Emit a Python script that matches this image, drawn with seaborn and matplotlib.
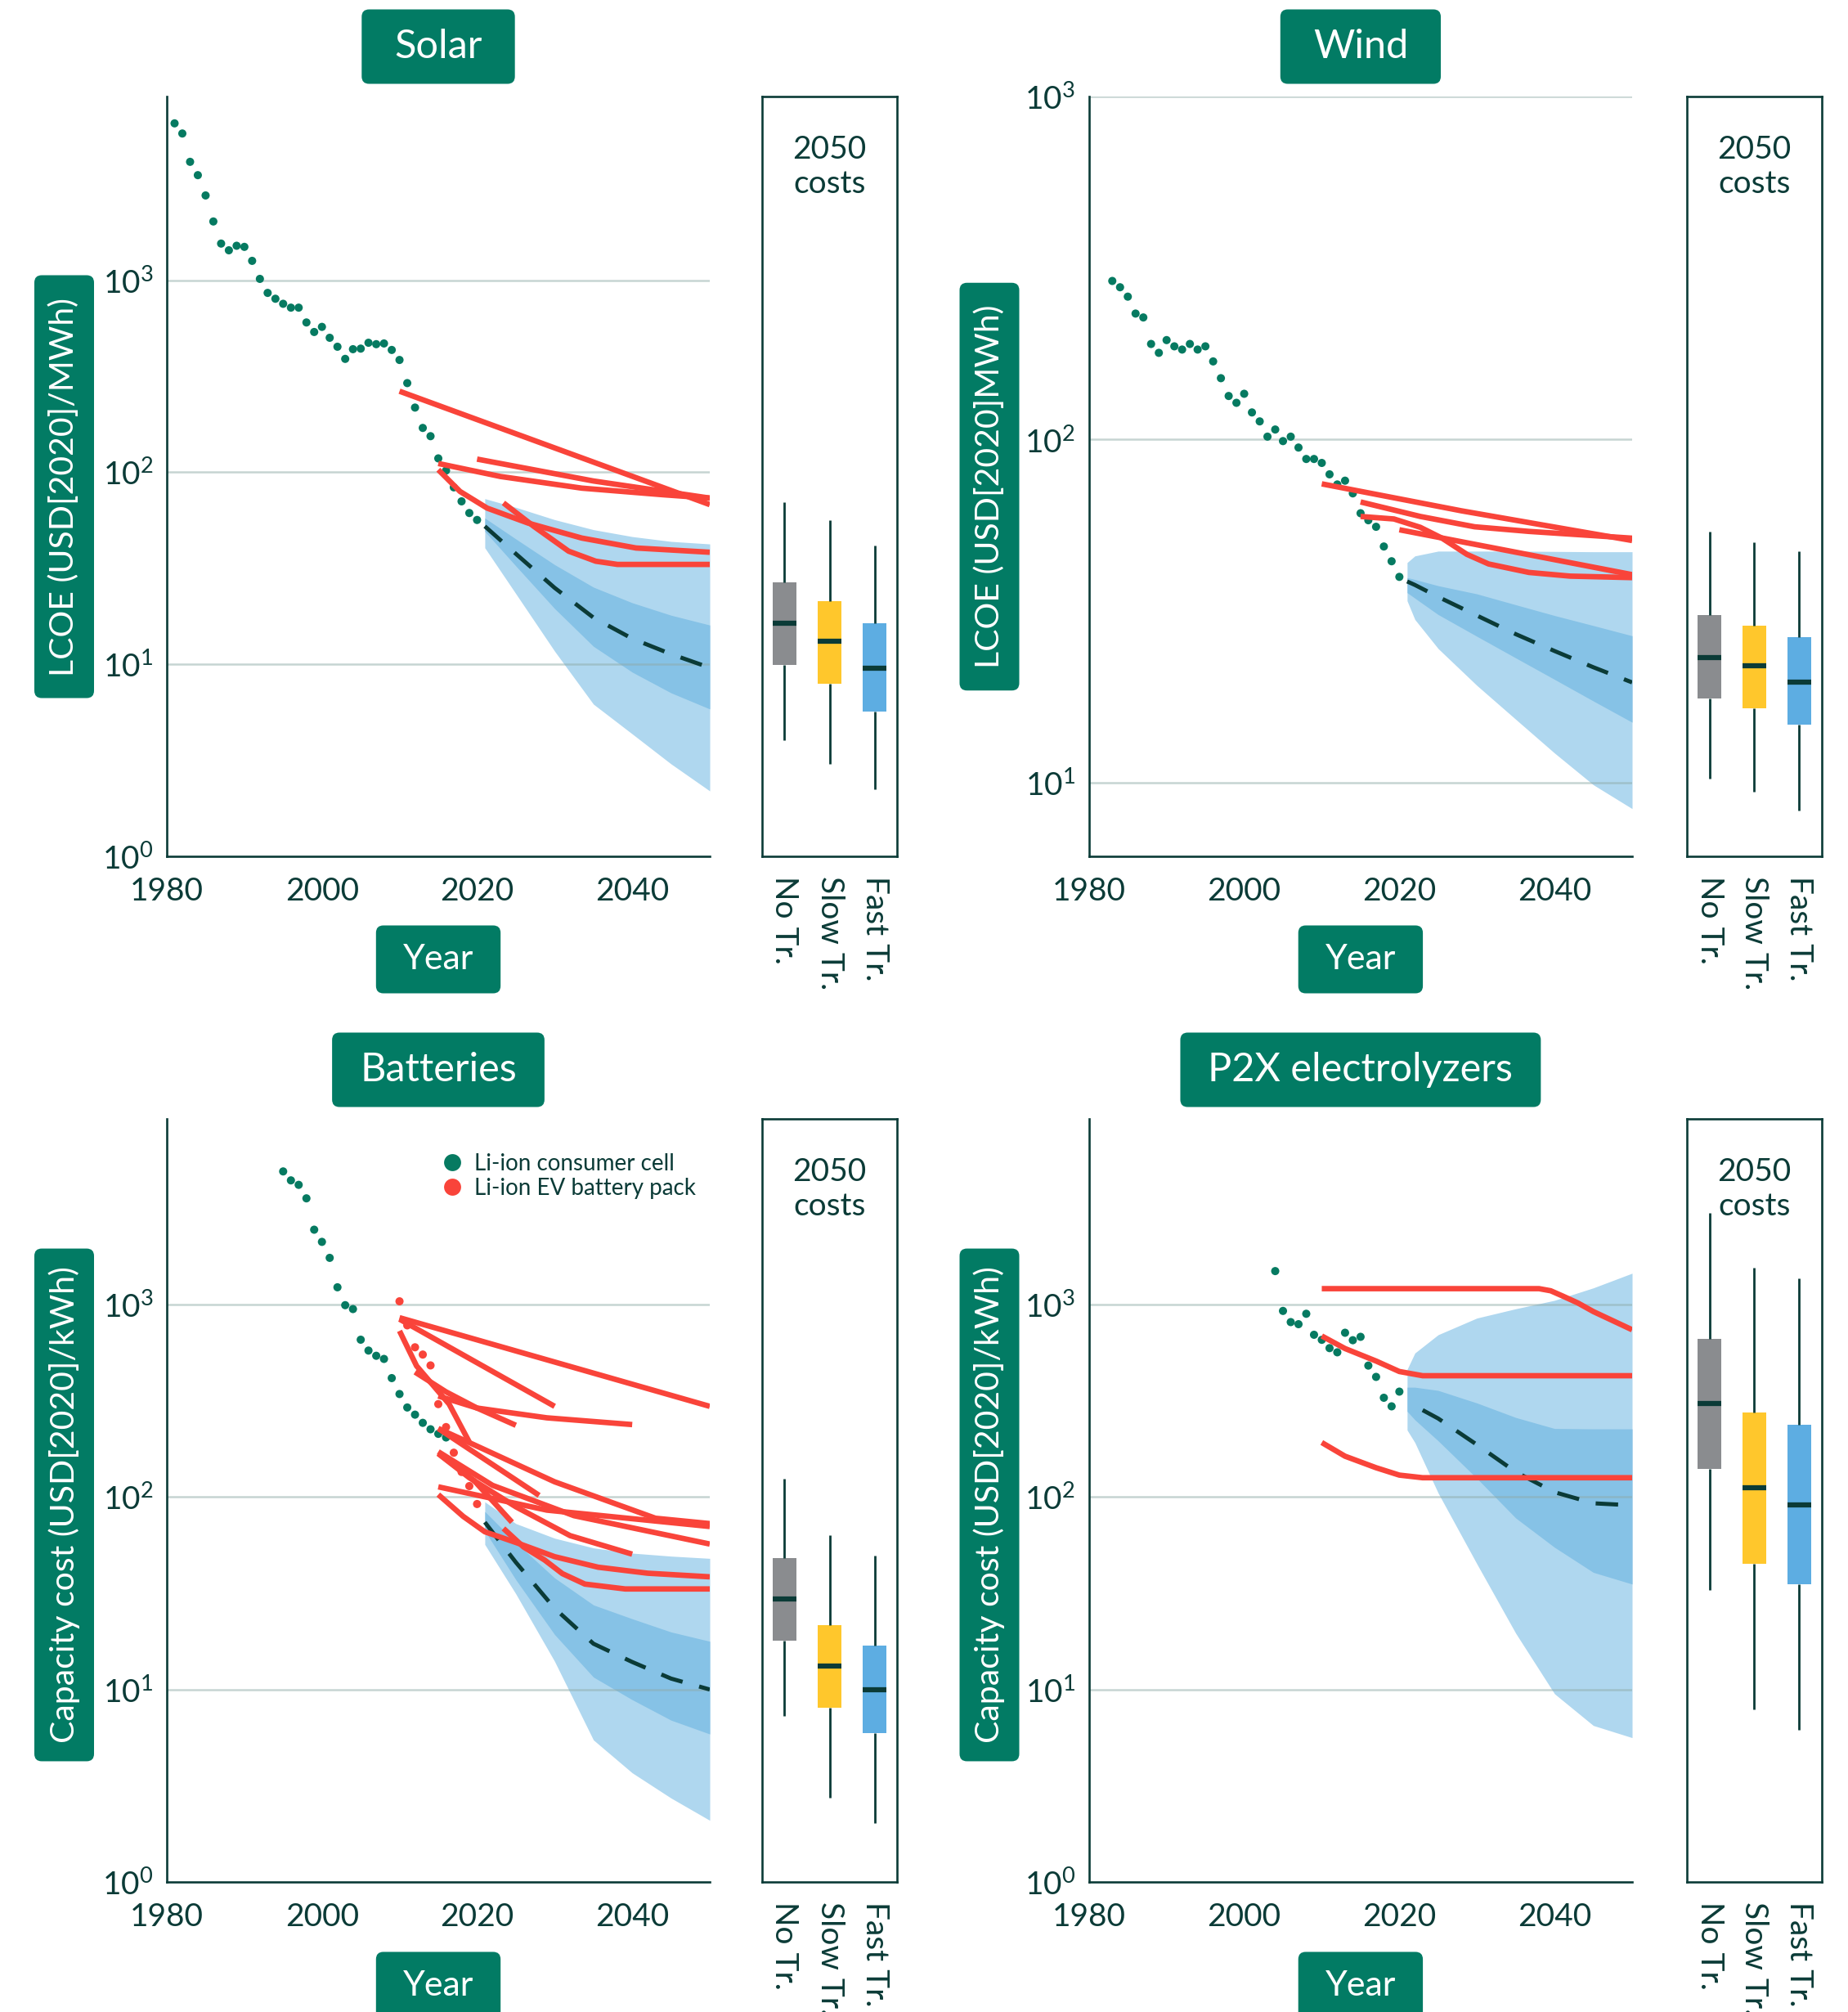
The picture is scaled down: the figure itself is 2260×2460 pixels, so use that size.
import numpy as np
import pandas as pd
import matplotlib
matplotlib.use("Agg")
import matplotlib.pyplot as plt
import seaborn as sns
from matplotlib.patches import FancyBboxPatch
from matplotlib.lines import Line2D
from matplotlib.ticker import NullLocator
from matplotlib.transforms import IdentityTransform

# ---------------- data ----------------
# Solar
solar_hist_years = np.arange(1981, 2021)
solar_hist_cost = [6550, 5800, 4130, 3520, 2760, 2020, 1550, 1430, 1510, 1490,
                   1260, 1015, 858, 800, 753, 719, 719, 602, 537, 571,
                   501, 450, 389, 437, 440, 472, 464, 468, 433, 384,
                   291, 217, 170, 154, 118, 102, 83.4, 70.5, 61.3, 56.4]
solar_proj_years = [2021, 2025, 2030, 2035, 2040, 2045, 2050]
solar_median = [52.3, 37.6, 25.0, 17.5, 13.6, 11.3, 9.6]
solar_inner_high = [57.7, 44.9, 33.0, 25.2, 20.9, 18.0, 16.0]
solar_inner_low = [49.2, 32.5, 19.5, 12.4, 9.1, 7.1, 5.85]
solar_outer_high = [72.8, 65.6, 56.6, 50.2, 46.2, 43.6, 42.3]
solar_outer_low = [40.4, 23.3, 11.7, 6.2, 4.34, 3.03, 2.19]
solar_study_years = [[2010, 2050],
                     [2020, 2035, 2050],
                     [2015, 2023, 2033.5, 2044, 2050],
                     [2015, 2017.8, 2021.3, 2026.6, 2033.5, 2040.5, 2050],
                     [2023.4, 2027.3, 2031.8, 2035.3, 2038.1, 2050]]
solar_study_cost = [[264, 67.8],
                    [117, 90, 73.3],
                    [111, 95, 82.6, 76.3, 73.3],
                    [103, 79.4, 65, 54.3, 45.4, 40.3, 38.3],
                    [69.2, 52.3, 38.8, 34.4, 33.1, 33.1]]
solar_box_no = [4.04, 9.9, 16.4, 26.7, 69.5]
solar_box_slow = [3.03, 7.93, 13.2, 21.4, 56.2]
solar_box_fast = [2.24, 5.69, 9.5, 16.3, 41.4]

# Wind
wind_hist_years = np.arange(1983, 2021)
wind_hist_cost = [290, 278, 261, 233, 227, 190, 179, 195, 187, 183,
                  190, 183, 187, 169, 151, 134, 128, 136, 120, 113,
                  102, 107, 99, 102, 94.8, 87.8, 87.8, 85.5, 79.2, 74,
                  75.9, 69.7, 61, 58.2, 55.7, 48.8, 44.2, 39.8]
wind_proj_years = [2021, 2022, 2025, 2030, 2035, 2040, 2045, 2050]
wind_median = [38.6, 37.7, 34.8, 30.7, 27.1, 24.2, 21.7, 19.6]
wind_inner_high = [39.6, 39.1, 37.5, 35.5, 33.0, 30.7, 28.7, 26.8]
wind_inner_low = [35.8, 34.5, 30.9, 26.7, 23.1, 20.0, 17.3, 15.0]
wind_outer_high = [43.8, 45.8, 47.3, 47.3, 47.3, 47.2, 47.1, 47.1]
wind_outer_low = [33.9, 29.9, 24.6, 19.2, 15.3, 12.2, 9.86, 8.4]
wind_study_years = [[2010, 2028, 2042, 2050],
                    [2015, 2022.7, 2029.7, 2036.7, 2050],
                    [2015, 2019.3, 2022.7, 2025.5, 2028.7, 2031.5, 2036.7, 2042, 2050],
                    [2020, 2050]]
wind_study_cost = [[74.3, 62, 54.6, 50.8],
                   [65.8, 59.7, 55.7, 54, 51.6],
                   [59.7, 58.7, 55.5, 51.6, 46.3, 43.4, 41.0, 40.0, 39.6],
                   [54.6, 40.4]]
wind_box_no = [10.3, 17.6, 23.2, 30.8, 53.8]
wind_box_slow = [9.4, 16.5, 21.9, 28.7, 50.2]
wind_box_fast = [8.3, 14.8, 19.6, 26.6, 47.3]

# Batteries
batt_cell_years = np.arange(1995, 2017)
batt_cell_cost = [4920, 4420, 4190, 3565, 2450, 2118, 1749, 1230, 993, 948,
                  657, 577, 542, 522, 415, 343, 292, 268, 243, 225, 213, 204]
batt_pack_years = np.arange(2010, 2021)
batt_pack_cost = [1040, 780, 600, 550, 483, 304, 231, 170, 135, 114, 92]
batt_proj_years = [2021, 2025, 2030, 2035, 2040, 2045, 2050]
batt_median = [74.0, 45.8, 26.4, 17.3, 13.9, 11.4, 10.0]
batt_inner_high = [84.1, 58.0, 38.0, 27.5, 23.3, 19.9, 17.8]
batt_inner_low = [66.7, 37.2, 19.3, 11.6, 8.85, 6.93, 5.87]
batt_outer_high = [94.4, 72.8, 61.1, 54.4, 51.1, 49.3, 48.0]
batt_outer_low = [56.7, 31.4, 14.0, 5.47, 3.69, 2.73, 2.09]
batt_study_years = [[2010, 2050],
                    [2010, 2030],
                    [2010, 2012.2, 2016.4, 2019],
                    [2012, 2016, 2020, 2025],
                    [2015, 2020, 2029, 2040],
                    [2015, 2019.6, 2030, 2043, 2050],
                    [2015, 2028],
                    [2015, 2019.6, 2024.5],
                    [2015, 2022, 2032.5, 2050],
                    [2015, 2019, 2025, 2032, 2040],
                    [2015, 2029, 2050],
                    [2015, 2018.2, 2021, 2025.2, 2030, 2035.6, 2042, 2050],
                    [2023.4, 2026, 2028.7, 2031, 2033.9, 2039.1, 2050]]
batt_study_cost = [[855, 296],
                   [840, 296],
                   [730, 480, 304, 193],
                   [446, 352, 290, 236],
                   [335, 290, 258, 238],
                   [227, 187, 120, 77.6, 72.8],
                   [227, 102],
                   [169, 122, 74],
                   [172, 115, 80, 57],
                   [168, 126, 89, 63, 50.5],
                   [113, 85.5, 70.3],
                   [103, 79.4, 66, 57.7, 49, 43.2, 40.2, 38.5],
                   [68.7, 55, 47.1, 40, 35.3, 33.3, 33.3]]
batt_box_no = [7.3, 18.0, 29.4, 48, 124]
batt_box_slow = [2.74, 8.07, 13.3, 21.7, 63.2]
batt_box_fast = [2.03, 5.94, 9.93, 16.9, 49.8]

# P2X electrolyzers
p2x_hist_years = np.arange(2004, 2021)
p2x_hist_cost = [1493, 927, 811, 791, 896, 697, 656, 594, 565, 714,
                 653, 680, 482, 421, 328, 296, 353]
p2x_proj_years = [2021, 2022, 2025, 2030, 2035, 2040, 2045, 2050]
p2x_median_years = [2023, 2025, 2030, 2035, 2040, 2045, 2050]
p2x_median = [283, 256, 187, 135, 106, 92.8, 90.6]
p2x_inner_high = [372, 372, 358, 308, 259, 227, 226, 226]
p2x_inner_low = [279, 252, 196, 125, 77.8, 54.8, 40.6, 35.3]
p2x_outer_high = [460, 560, 697, 851, 951, 1052, 1221, 1455]
p2x_outer_low = [223, 192, 105, 44.9, 19.6, 9.5, 6.5, 5.62]
p2x_study_years = [[2010, 2038, 2039.5, 2041, 2043, 2045, 2050],
                   [2010, 2013, 2017, 2020, 2023, 2050],
                   [2010, 2013, 2017, 2020, 2023, 2050]]
p2x_study_cost = [[1210, 1210, 1180, 1110, 1020, 920, 740],
                  [687, 591, 509, 449, 427, 427],
                  [192, 163, 142, 130, 126, 126]]
p2x_box_no = [32.8, 140, 305, 662, 2990]
p2x_box_slow = [7.9, 45, 112, 274, 1552]
p2x_box_fast = [6.15, 35.4, 91.2, 237, 1364]

scenario_labels = ["No Tr.", "Slow Tr.", "Fast Tr."]
year_ticks = [1980, 2000, 2020, 2040]

# ---------------- style ----------------
sns.set_theme(style="white")
plt.rcParams["font.family"] = ["Lato", "DejaVu Sans"]
plt.rcParams["mathtext.fontset"] = "custom"
plt.rcParams["mathtext.rm"] = "Lato"
plt.rcParams["mathtext.it"] = "Lato:italic"
plt.rcParams["mathtext.bf"] = "Lato:bold"

TEAL = "#027B64"
GREEN = "#067A61"
DARK = "#0B3B37"
RED = "#F9443A"
LIGHT_BLUE = "#AFD7EF"
MID_BLUE = "#86C2E6"
GRID = "#8FAAA7"
BOX_COLORS = ["#8A8C8F", "#FFC72C", "#5DADE2"]
TICK_FS = 28

W, H = 2260, 2460
fig = plt.figure(figsize=(W / 100, H / 100), dpi=100)
fig.patch.set_facecolor("white")


def add_px_axes(l, t, r, b):
    return fig.add_axes([l / W, 1 - b / H, (r - l) / W, (b - t) / H])


def style_main(ax, ylim, yticks):
    ax.set_yscale("log")
    ax.set_ylim(*ylim)
    ax.set_xlim(1980, 2050)
    ax.set_yticks(yticks)
    ax.set_yticklabels([r"$\mathregular{10^{%d}}$" % int(round(np.log10(v))) for v in yticks])
    ax.yaxis.set_minor_locator(NullLocator())
    ax.set_xticks(year_ticks)
    ax.set_xticklabels([str(y) for y in year_ticks])
    ax.tick_params(axis="x", length=0, labelsize=TICK_FS, colors=DARK, pad=18)
    ax.tick_params(axis="y", length=0, labelsize=TICK_FS, colors=DARK, pad=12)
    for s in ["top", "right"]:
        ax.spines[s].set_visible(False)
    for s in ["left", "bottom"]:
        ax.spines[s].set_color(DARK)
        ax.spines[s].set_linewidth(1.9)
    ax.set_facecolor("white")
    ax.set_xlabel("")
    ax.set_ylabel("")


def draw_main(ax, hist_years, hist_cost, proj_years, med_years, med,
              in_lo, in_hi, out_lo, out_hi, study_years, study_cost,
              ylim, yticks, grid_vals):
    ax.set_yscale("log")
    ax.fill_between(proj_years, out_lo, out_hi, color=LIGHT_BLUE, lw=0, zorder=1)
    ax.fill_between(proj_years, in_lo, in_hi, color=MID_BLUE, lw=0, zorder=1.1)
    for v in grid_vals:
        ax.axhline(v, color=GRID, alpha=0.5, lw=1.8, zorder=1.5)
    sns.lineplot(x=med_years, y=med, ax=ax, color=DARK, linewidth=3.6,
                 linestyle=(0, (5.5, 4.2)), estimator=None, sort=False, zorder=3)
    sns.scatterplot(x=hist_years, y=hist_cost, ax=ax, color=GREEN, s=52,
                    edgecolor="none", linewidth=0, zorder=3.5)
    for ys, cs in zip(study_years, study_cost):
        sns.lineplot(x=ys, y=cs, ax=ax, color=RED, linewidth=4.8,
                     estimator=None, sort=False, zorder=4,
                     solid_capstyle="butt")
    style_main(ax, ylim, yticks)


def draw_box(bax, no, slow, fast, ylim):
    df = pd.DataFrame({
        "scenario": [scenario_labels[0]] * len(no) + [scenario_labels[1]] * len(slow)
                    + [scenario_labels[2]] * len(fast),
        "cost": list(no) + list(slow) + list(fast),
    })
    bax.set_yscale("log")
    sns.boxplot(data=df, x="scenario", y="cost", hue="scenario", order=scenario_labels,
                hue_order=scenario_labels, palette=BOX_COLORS, legend=False, ax=bax,
                width=0.525, whis=(0, 100), saturation=1, linecolor=DARK, linewidth=2.0,
                showcaps=False, boxprops=dict(linewidth=0),
                medianprops=dict(linewidth=4.5, solid_capstyle="butt"))
    for p in bax.patches:
        p.set_edgecolor("none")
    bax.set_ylim(*ylim)
    bax.set_xlim(-0.5, 2.5)
    bax.set_yticks([])
    bax.yaxis.set_minor_locator(NullLocator())
    bax.set_xticks([0, 1, 2])
    bax.set_xticklabels(scenario_labels, rotation=270, va="top", ha="center")
    bax.tick_params(axis="x", length=0, labelsize=TICK_FS, colors=DARK, pad=17)
    for s in bax.spines.values():
        s.set_visible(True)
        s.set_color(DARK)
        s.set_linewidth(1.9)
    bax.set_xlabel("")
    bax.set_ylabel("")
    bax.text(0.5, 1 - 86 / 929, "2050\ncosts", transform=bax.transAxes, ha="center",
             va="center", fontsize=TICK_FS, color=DARK, linespacing=1.2)


# axes geometry (pixels)
LEFT_MAIN = (204, 868)
LEFT_BOX = (931.7, 1097.3)
RIGHT_MAIN = (1331.8, 1996)
RIGHT_BOX = (2063.3, 2227.6)
TOP_ROW = (118, 1047)
BOT_ROW = (1368, 2301)

solar_ylim = (1, 10 ** 3.956)
wind_ylim = (6.1, 1000)
batt_ylim = (1, 10 ** 3.965)
p2x_ylim = (1, 10 ** 3.965)

ax1 = add_px_axes(LEFT_MAIN[0], TOP_ROW[0], LEFT_MAIN[1], TOP_ROW[1])
bx1 = add_px_axes(LEFT_BOX[0], TOP_ROW[0], LEFT_BOX[1], TOP_ROW[1])
ax2 = add_px_axes(RIGHT_MAIN[0], TOP_ROW[0], RIGHT_MAIN[1], TOP_ROW[1])
bx2 = add_px_axes(RIGHT_BOX[0], TOP_ROW[0], RIGHT_BOX[1], TOP_ROW[1])
ax3 = add_px_axes(LEFT_MAIN[0], BOT_ROW[0], LEFT_MAIN[1], BOT_ROW[1])
bx3 = add_px_axes(LEFT_BOX[0], BOT_ROW[0], LEFT_BOX[1], BOT_ROW[1])
ax4 = add_px_axes(RIGHT_MAIN[0], BOT_ROW[0], RIGHT_MAIN[1], BOT_ROW[1])
bx4 = add_px_axes(RIGHT_BOX[0], BOT_ROW[0], RIGHT_BOX[1], BOT_ROW[1])

draw_main(ax1, solar_hist_years, solar_hist_cost, solar_proj_years, solar_proj_years,
          solar_median, solar_inner_low, solar_inner_high, solar_outer_low, solar_outer_high,
          solar_study_years, solar_study_cost, solar_ylim, [1, 10, 100, 1000], [10, 100, 1000])
draw_box(bx1, solar_box_no, solar_box_slow, solar_box_fast, solar_ylim)

draw_main(ax2, wind_hist_years, wind_hist_cost, wind_proj_years, wind_proj_years,
          wind_median, wind_inner_low, wind_inner_high, wind_outer_low, wind_outer_high,
          wind_study_years, wind_study_cost, wind_ylim, [10, 100, 1000], [10, 100, 1000])
draw_box(bx2, wind_box_no, wind_box_slow, wind_box_fast, wind_ylim)

draw_main(ax3, batt_cell_years, batt_cell_cost, batt_proj_years, batt_proj_years,
          batt_median, batt_inner_low, batt_inner_high, batt_outer_low, batt_outer_high,
          batt_study_years, batt_study_cost, batt_ylim, [1, 10, 100, 1000], [10, 100, 1000])
sns.scatterplot(x=batt_pack_years, y=batt_pack_cost, ax=ax3, color=RED, s=52,
                edgecolor="none", linewidth=0, zorder=3.8)
ax3.set_xlabel("")
ax3.set_ylabel("")
draw_box(bx3, batt_box_no, batt_box_slow, batt_box_fast, batt_ylim)

draw_main(ax4, p2x_hist_years, p2x_hist_cost, p2x_proj_years, p2x_median_years,
          p2x_median, p2x_inner_low, p2x_inner_high, p2x_outer_low, p2x_outer_high,
          p2x_study_years, p2x_study_cost, p2x_ylim, [1, 10, 100, 1000], [10, 100, 1000])
draw_box(bx4, p2x_box_no, p2x_box_slow, p2x_box_fast, p2x_ylim)

# legend in batteries panel
handles = [Line2D([0], [0], marker="o", ls="", markerfacecolor=GREEN, markeredgecolor="none",
                  markersize=15, label="Li-ion consumer cell"),
           Line2D([0], [0], marker="o", ls="", markerfacecolor=RED, markeredgecolor="none",
                  markersize=15, label="Li-ion EV battery pack")]
ax3.legend(handles=handles, loc="upper left", bbox_to_anchor=(0.507, 0.955), frameon=False,
           fontsize=20, handlelength=0.9, handletextpad=0.5, labelspacing=0.15,
           borderpad=0, borderaxespad=0, labelcolor=DARK)

# ---------------- label boxes ----------------
label_specs = []


def label_box(xc, yc, text, fs, rot, pad, thick):
    t = fig.text(xc / W, 1 - yc / H, text, ha="center", va="center", rotation=rot,
                 color="white", fontsize=fs, zorder=10)
    label_specs.append((t, xc, yc, rot, pad, thick))


lc = (LEFT_MAIN[0] + LEFT_MAIN[1]) / 2
rc = (RIGHT_MAIN[0] + RIGHT_MAIN[1]) / 2
label_box(lc, 57, "Solar", 35, 0, 40, 91)
label_box(rc, 57, "Wind", 35, 0, 40, 91)
label_box(lc, 1308, "Batteries", 35, 0, 34, 91)
label_box(rc, 1308, "P2X electrolyzers", 35, 0, 34, 91)
label_box(lc, 1173, "Year", 31, 0, 33, 83)
label_box(rc, 1173, "Year", 31, 0, 33, 83)
label_box(lc, 2428, "Year", 31, 0, 33, 83)
label_box(rc, 2428, "Year", 31, 0, 33, 83)
label_box(78.5, 595, "LCOE (USD[2020]/MWh)", 29.5, 90, 27, 73)
label_box(1210, 595, "LCOE (USD[2020]MWh)", 29.5, 90, 27, 73)
label_box(78.5, 1840, "Capacity cost (USD[2020]/kWh)", 29.5, 90, 22, 73)
label_box(1210, 1840, "Capacity cost (USD[2020]/kWh)", 29.5, 90, 22, 73)

fig.canvas.draw()
renderer = fig.canvas.get_renderer()
for t, xc, yc, rot, pad, thick in label_specs:
    bb = t.get_window_extent(renderer)
    if rot == 0:
        w, h = bb.width + 2 * pad, thick
    else:
        w, h = thick, bb.height + 2 * pad
    patch = FancyBboxPatch((xc - w / 2, (H - yc) - h / 2), w, h,
                           boxstyle="round,pad=0,rounding_size=9",
                           transform=IdentityTransform(), facecolor=TEAL,
                           edgecolor="none", zorder=9)
    fig.add_artist(patch)

fig.savefig("out.png", dpi=100, facecolor="white")
